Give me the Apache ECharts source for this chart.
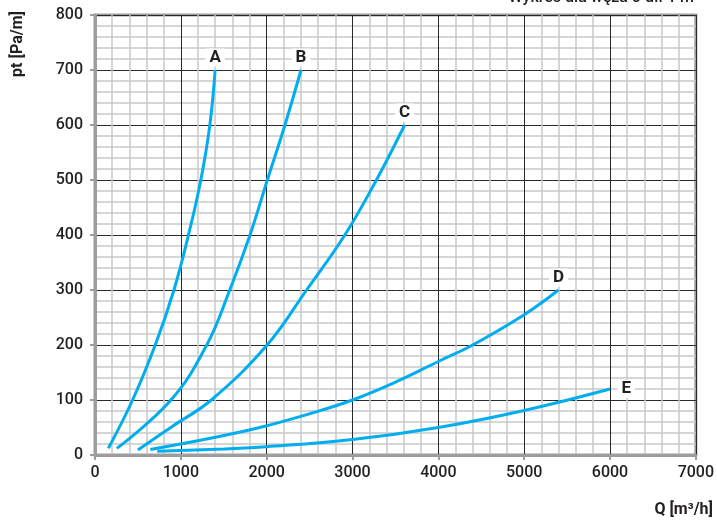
<!DOCTYPE html>
<html>
<head>
<meta charset="utf-8">
<script src="https://cdn.jsdelivr.net/npm/echarts@6/dist/echarts.min.js"></script>
<style>
html,body{margin:0;padding:0;background:#fff;}
#c{width:717px;height:520px;}
</style>
</head>
<body>
<div id="c"></div>
<script>
// Data: [Q m3/h, pt Pa/m]
var curveNames = ['A', 'B', 'C', 'D', 'E'];
var curveA = [[155,12],[438,100],[702,200],[920,300],[1089,400],[1233,500],[1338,600],[1400,700]];
var curveB = [[255,12],[885,100],[1302,200],[1570,300],[1806,400],[2008,500],[2213,600],[2400,700]];
var curveC = [[500,9],[900,52],[1355,100],[2005,200],[2465,300],[2911,400],[3279,500],[3608,600]];
var curveD = [[645,10],[1300,29],[1920,50],[2500,75],[3000,100],[3550,136],[4000,170],[4400,200],[5000,255],[5400,300]];
var curveE = [[725,7],[1500,11],[2000,15],[3000,28],[4000,50],[5000,81],[6000,120]];
var labelPos = ['top', 'top', 'top', 'top', 'right'];
var titleText = 'Wykres dla węża o dł. 1 m';
var xName = 'Q [m³/h]';
var yName = 'pt [Pa/m]';

var curves = [curveA, curveB, curveC, curveD, curveE];
var FONT = 'Roboto';
var chart = echarts.init(document.getElementById('c'));

var series = curves.map(function (c, i) {
  return {
    name: curveNames[i],
    type: 'line',
    smooth: 0.4,
    showSymbol: true,
    showAllSymbol: true,
    symbol: 'circle',
    symbolSize: 1,
    itemStyle: { color: 'rgba(0,0,0,0)', borderWidth: 0 },
    lineStyle: { color: '#00aeef', width: 3 },
    z: 5,
    data: c.map(function (p, j) {
      var item = { value: p };
      if (j === c.length - 1) {
        item.label = {
          show: true,
          position: labelPos[i],
          distance: labelPos[i] === 'right' ? 7 : 3,
          formatter: curveNames[i],
          color: '#231f20',
          fontFamily: FONT,
          fontWeight: 'bold',
          fontSize: 17,
          backgroundColor: '#fff',
          padding: [1, 4, 0, 4]
        };
      }
      return item;
    })
  };
});

function plain(v) { return String(v); }

chart.setOption({
  animation: false,
  grid: {
    left: 95, right: 21, top: 15, bottom: 65,
    show: true, borderColor: '#9d9d9d', borderWidth: 3, backgroundColor: '#fff'
  },
  xAxis: {
    type: 'value', min: 0, max: 7000, interval: 1000,
    axisLine: { show: true, lineStyle: { color: '#9d9d9d', width: 3 } },
    axisTick: { show: true, length: 5, lineStyle: { color: '#9d9d9d', width: 2 } },
    axisLabel: { formatter: plain, color: '#231f20', fontFamily: FONT, fontSize: 16, fontWeight: 500, margin: 10 },
    splitLine: { show: true, lineStyle: { color: '#2a2a2a', width: 1 } },
    minorTick: { show: false, splitNumber: 5 },
    minorSplitLine: { show: true, lineStyle: { color: '#c9c9c9', width: 1.5 } }
  },
  yAxis: {
    type: 'value', min: 0, max: 800, interval: 100,
    axisLine: { show: true, lineStyle: { color: '#9d9d9d', width: 3 } },
    axisTick: { show: true, length: 5, lineStyle: { color: '#9d9d9d', width: 2 } },
    axisLabel: { formatter: plain, color: '#231f20', fontFamily: FONT, fontSize: 16, fontWeight: 500, margin: 12 },
    splitLine: { show: true, lineStyle: { color: '#2a2a2a', width: 1 } },
    minorTick: { show: false, splitNumber: 5 },
    minorSplitLine: { show: true, lineStyle: { color: '#c9c9c9', width: 1.5 } }
  },
  graphic: [
    { type: 'text', right: 23, top: -10, style: { text: titleText, fill: '#231f20', font: '500 16px ' + FONT } },
    { type: 'text', x: 18, y: 44, rotation: Math.PI / 2, style: { text: yName, fill: '#231f20', font: 'bold 16px ' + FONT, align: 'center', verticalAlign: 'middle' } },
    { type: 'text', x: 713, y: 510, style: { text: xName, fill: '#231f20', font: 'bold 16px ' + FONT, align: 'right', verticalAlign: 'middle' } }
  ],
  series: series
});
</script>
</body>
</html>
